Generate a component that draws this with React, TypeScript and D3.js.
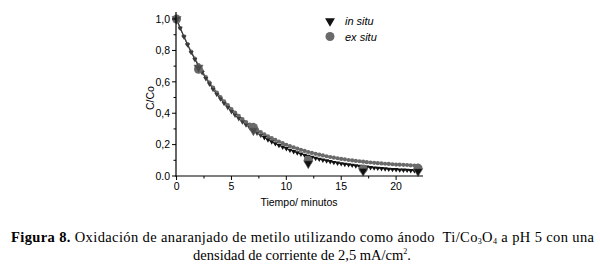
import React from "react";
import * as d3 from "d3";

const times = [0,0.33,0.67,1,1.33,1.67,2,2.33,2.67,3,3.33,3.67,4,4.33,4.67,5,5.33,5.67,6,6.33,6.67,7,7.33,7.67,8,8.33,8.67,9,9.33,9.67,10,10.33,10.67,11,11.33,11.67,12,12.33,12.67,13,13.33,13.67,14,14.33,14.67,15,15.33,15.67,16,16.33,16.67,17,17.33,17.67,18,18.33,18.67,19,19.33,19.67,20,20.33,20.67,21,21.33,21.67,22];

const inSituFit = [1.000,0.942,0.887,0.836,0.788,0.742,0.700,0.659,0.621,0.586,0.552,0.520,0.491,0.463,0.436,0.411,0.388,0.366,0.345,0.326,0.308,0.291,0.274,0.259,0.245,0.231,0.218,0.206,0.195,0.185,0.175,0.165,0.156,0.148,0.140,0.133,0.126,0.119,0.113,0.107,0.102,0.097,0.092,0.087,0.083,0.079,0.075,0.072,0.069,0.065,0.062,0.060,0.057,0.054,0.052,0.050,0.048,0.046,0.044,0.042,0.041,0.039,0.038,0.037,0.035,0.034,0.033];

const exSituFit = [1.000,0.943,0.890,0.840,0.792,0.748,0.706,0.667,0.630,0.595,0.563,0.532,0.503,0.476,0.451,0.427,0.404,0.383,0.363,0.344,0.327,0.310,0.295,0.280,0.266,0.253,0.241,0.230,0.219,0.209,0.199,0.190,0.182,0.174,0.167,0.160,0.153,0.147,0.141,0.136,0.131,0.126,0.121,0.117,0.113,0.109,0.106,0.102,0.099,0.096,0.094,0.091,0.088,0.086,0.084,0.082,0.080,0.078,0.077,0.075,0.073,0.072,0.071,0.070,0.068,0.067,0.066];

const sampleTimes = [0, 2, 7, 12, 17, 22];
const inSituPts = [1.0, 0.69, 0.29, 0.08, 0.032, 0.03];
const exSituPts = [1.0, 0.68, 0.31, 0.10, 0.045, 0.05];

const xTicks = [0, 5, 10, 15, 20];
const xMinor = [2.5, 7.5, 12.5, 17.5];
const yTicks = [0, 0.2, 0.4, 0.6, 0.8, 1.0];
const yTickLabels = ["0.0", "0,2", "0,4", "0,6", "0,8", "1,0"];
const yMinor = [0.1, 0.3, 0.5, 0.7, 0.9];

export default function App() {
  const x = d3.scaleLinear().domain([-0.05, 22.45]).range([176, 423]);
  const y = d3.scaleLinear().domain([0, 1.045]).range([176, 12]);
  const triSmall = d3.symbol(d3.symbolTriangle, 11)()!;
  const triBig = d3.symbol(d3.symbolTriangle, 36)()!;
  const triLegend = d3.symbol(d3.symbolTriangle, 42)()!;
  const black = "#111";
  const gray = "#6a6a6a";
  const sans = "'Liberation Sans', Arial, sans-serif";
  const serif = "'Liberation Serif', 'Times New Roman', serif";
  const fitLine = d3.line<number>().x((_, i) => x(times[i])).y((v) => y(v));

  return (
    <svg width={600} height={266} style={{ position: "fixed", left: 0, top: 0, background: "#fff" }}>
      <rect width={600} height={266} fill="#fff" />
      {/* ex situ small circles */}
      <path d={fitLine(exSituFit)!} fill="none" stroke={gray} strokeWidth={1.4} />
      {times.map((t, i) => (
        <circle key={"ec" + i} cx={x(t)} cy={y(exSituFit[i])} r={2.1} fill={gray} />
      ))}
      {/* in situ small triangles */}
      <path d={fitLine(inSituFit)!} fill="none" stroke="#333" strokeWidth={1} />
      {times.map((t, i) => (
        <path key={"it" + i} d={triSmall} transform={`translate(${x(t)},${y(inSituFit[i])}) rotate(180)`} fill={t < 8 ? "#3a3a3a" : black} />
      ))}
      {/* big ex situ circles */}
      {sampleTimes.map((t, i) => (
        <circle key={"eb" + i} cx={x(t)} cy={y(exSituPts[i])} r={4.5} fill={gray} />
      ))}
      {/* big in situ triangles */}
      {sampleTimes.map((t, i) => (
        <path key={"ib" + i} d={triBig} transform={`translate(${x(t)},${y(inSituPts[i])}) rotate(180)`} fill={i < 3 ? "#4a4a4a" : black} stroke={gray} strokeWidth={0.6} />
      ))}

      {/* axes */}
      <line x1={176} x2={176} y1={12} y2={176.5} stroke="#000" strokeWidth={1.2} />
      <line x1={175.5} x2={423} y1={176} y2={176} stroke="#000" strokeWidth={1.2} />
      {xTicks.map((t) => (
        <g key={"xt" + t}>
          <line x1={x(t)} x2={x(t)} y1={176} y2={180} stroke="#000" strokeWidth={1} />
          <text x={x(t)} y={190} fontSize={10.5} fontFamily={sans} textAnchor="middle">{t}</text>
        </g>
      ))}
      {xMinor.map((t) => (
        <line key={"xm" + t} x1={x(t)} x2={x(t)} y1={176} y2={178.5} stroke="#000" strokeWidth={1} />
      ))}
      {yTicks.map((v, i) => (
        <g key={"yt" + i}>
          <line x1={172} x2={176} y1={y(v)} y2={y(v)} stroke="#000" strokeWidth={1} />
          <text x={170} y={y(v) + 3.8} fontSize={10.5} fontFamily={sans} textAnchor="end">{yTickLabels[i]}</text>
        </g>
      ))}
      {yMinor.map((v) => (
        <line key={"ym" + v} x1={173.5} x2={176} y1={y(v)} y2={y(v)} stroke="#000" strokeWidth={1} />
      ))}

      <text x={299} y={206} fontSize={10.5} fontFamily={sans} textAnchor="middle">Tiempo/ minutos</text>
      <text transform="translate(153.5,98) rotate(-90)" fontSize={10.5} fontFamily={sans} textAnchor="middle">C/Co</text>

      {/* legend */}
      <path d={triLegend} transform="translate(330,21) rotate(180)" fill={black} />
      <text x={345} y={25} fontSize={11} fontFamily={sans} fontStyle="italic">in situ</text>
      <circle cx={330} cy={36.5} r={4.5} fill={gray} />
      <text x={345} y={40.5} fontSize={11} fontFamily={sans} fontStyle="italic">ex situ</text>

      {/* caption */}
      <text x={11} y={241.5} fontSize={14.5} fontFamily={serif} textLength={583} lengthAdjust="spacing" style={{ whiteSpace: "pre" }}>
        <tspan fontWeight="bold">Figura 8.</tspan>
        <tspan> Oxidación de anaranjado de metilo utilizando como ánodo  Ti/Co</tspan>
        <tspan fontSize={8} dy={2}>3</tspan>
        <tspan dy={-2}>O</tspan>
        <tspan fontSize={8} dy={2}>4</tspan>
        <tspan dy={-2}> a pH 5 con una</tspan>
      </text>
      <text x={302} y={259.5} fontSize={14.5} fontFamily={serif} textAnchor="middle">
        <tspan>densidad de corriente de 2,5 mA/cm</tspan>
        <tspan fontSize={8} dy={-6}>2</tspan>
        <tspan dy={6}>.</tspan>
      </text>
    </svg>
  );
}
